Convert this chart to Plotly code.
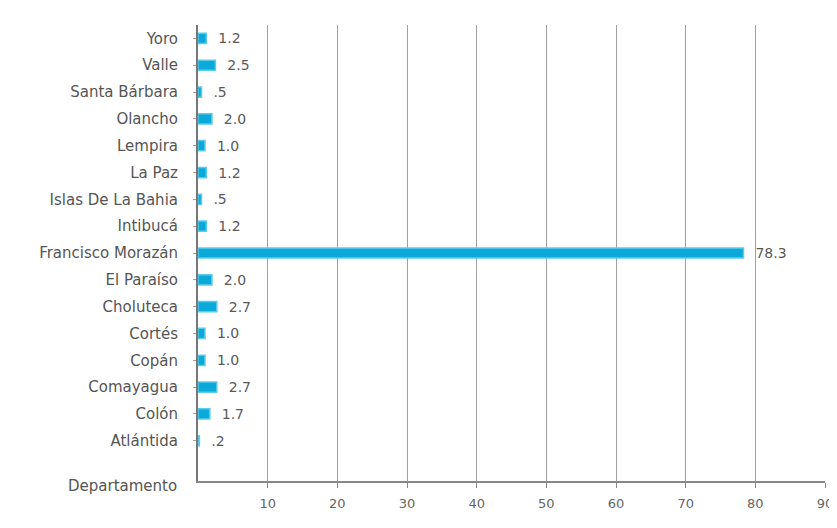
import plotly.graph_objects as go

departamentos = ["Atlántida", "Colón", "Comayagua", "Copán", "Cortés", "Choluteca",
                 "El Paraíso", "Francisco Morazán", "Intibucá", "Islas De La Bahia",
                 "La Paz", "Lempira", "Olancho", "Santa Bárbara", "Valle", "Yoro"]
valores = [0.2, 1.7, 2.7, 1.0, 1.0, 2.7, 2.0, 78.3, 1.2, 0.5, 1.2, 1.0, 2.0, 0.5, 2.5, 1.2]
x_ticks = [10, 20, 30, 40, 50, 60, 70, 80, 90]


def fmt(v):
    s = f"{v:.1f}"
    return s[1:] if s.startswith("0.") else s


fig = go.Figure()
fig.add_trace(go.Bar(
    y=departamentos, x=valores, orientation="h",
    marker=dict(color="#0BA9DA", line=dict(color="#5CCBEA", width=1.5)),
    width=0.38,
    text=["  " + fmt(v) for v in valores], textposition="outside",
    constraintext="none",
    textfont=dict(family="DejaVu Sans", size=14, color="#5A5A5A"),
    cliponaxis=False,
))

fig.update_layout(
    width=837, height=528,
    margin=dict(l=190, r=20, t=17, b=55),
    paper_bgcolor="white", plot_bgcolor="white",
    showlegend=False,
    font=dict(family="DejaVu Sans", size=14, color="#555555"),
    xaxis=dict(range=[0, 90], tickvals=x_ticks, showgrid=True, gridcolor="#A0A0A0",
               gridwidth=1, showline=True, linecolor="#888888", linewidth=2,
               ticks="outside", ticklen=5, tickcolor="#888888", ticklabelstandoff=4,
               tickfont=dict(size=13, color="#666666"), zeroline=False, mirror=False),
    yaxis=dict(categoryorder="array", categoryarray=departamentos,
               range=[-1.5, 15.5], showline=True, linecolor="#777777", linewidth=2,
               ticks="outside", ticklen=3, tickcolor="#C89090", ticklabelstandoff=12,
               tickfont=dict(size=15, color="#555555"), showgrid=False),
)
fig.add_annotation(text="Departamento", xref="paper", yref="paper", x=0, y=0,
                   xanchor="right", yanchor="middle", xshift=-19, yshift=-5,
                   showarrow=False, font=dict(size=15, color="#555555"))

fig.write_html("out.html")
